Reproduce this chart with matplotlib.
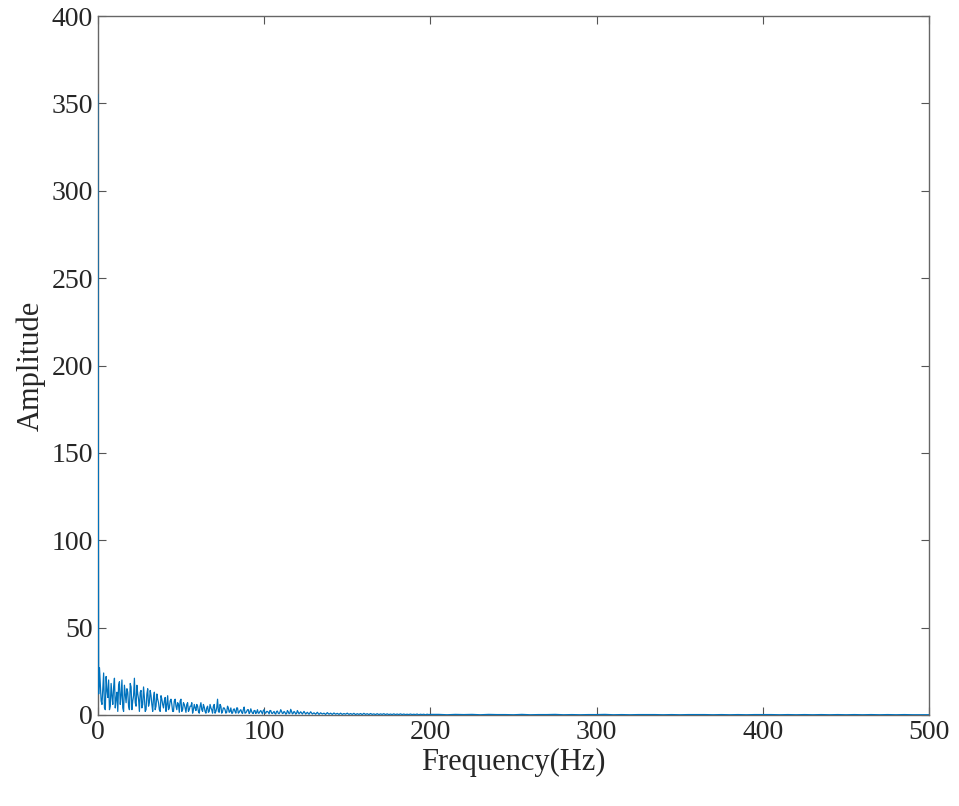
import numpy as np
import matplotlib
matplotlib.use("Agg")
from matplotlib import pyplot as plt

# spectrum: 1 Hz steps to 200 Hz, then 5 Hz steps
freq_low = list(range(0, 201))
amp_low = [355, 27, 8, 15, 4, 22, 10, 3, 18, 6,
           21, 9, 2, 19, 11, 4, 17, 7, 13, 3,
           16, 8, 21, 5, 12, 2, 14, 6, 10, 3,
           15, 7, 11, 2, 13, 5, 9, 3, 11, 6,
           8, 2, 11, 4, 9, 2, 8, 5, 7, 1.5,
           9, 3, 6, 1.5, 7, 3, 5, 1, 6, 2.5,
           5, 1, 7, 2, 4.5, 1, 5, 2, 4, 1,
           6, 2, 9, 1.5, 5, 2, 4, 1, 5, 1.5,
           4, 1, 3.5, 1, 4, 1.5, 3, 0.8, 4.5, 1.2,
           3, 0.8, 3.5, 1, 2.5, 0.8, 3, 1, 2.5, 0.6,
           3, 1, 2, 0.6, 2.5, 0.8, 2, 0.5, 2.2, 0.7,
           3, 0.8, 2, 0.5, 2.5, 0.7, 3.2, 0.6, 2, 0.5,
           2.5, 0.6, 1.8, 0.5, 2, 0.5, 1.5, 0.4, 1.8, 0.5,
           1.2, 0.4, 1.5, 0.3, 1.2, 0.5, 1.0, 0.3, 1.3, 0.4,
           1.0, 0.3, 1.1, 0.4, 0.9, 0.3, 1.0, 0.3, 0.8, 0.4,
           1.0, 0.3, 0.8, 0.3, 0.9, 0.2, 0.7, 0.3, 0.8, 0.2,
           0.9, 0.3, 0.7, 0.2, 0.8, 0.3, 0.6, 0.2, 0.7, 0.2,
           0.6, 0.3, 0.7, 0.2, 0.6, 0.2, 0.5, 0.2, 0.6, 0.2,
           0.5, 0.2, 0.6, 0.2, 0.5, 0.2, 0.4, 0.2, 0.5, 0.2,
           0.4, 0.2, 0.5, 0.1, 0.4, 0.2, 0.4, 0.1, 0.4, 0.2,
           0.3]
# in-between bins (0.5, 1.5, ... 119.5 Hz) where the trace is densest
freq_mid = [f + 0.5 for f in range(0, 120)]
amp_mid = [12, 18, 6, 24, 3, 14, 20, 5, 11, 16,
           4, 13, 17, 6, 20, 2, 12, 15, 5, 18,
           3, 11, 7, 17, 9, 13, 4, 16, 2, 12,
           5, 14, 6, 10, 3, 12, 7, 2, 9, 4,
           10, 6, 3, 8, 6, 2, 9, 3, 6, 8,
           2, 7, 4, 6, 2, 5, 7, 3, 4, 6,
           2, 5, 3, 6, 2, 4, 1.5, 6, 3, 5,
           1, 4, 2, 6, 1, 4, 3, 1.5, 4, 2,
           1, 3, 2, 4, 1, 2.5, 1.5, 3, 1, 2,
           3, 1.5, 2, 0.8, 2.5, 1.5, 1, 2, 1.5, 2.5,
           1, 2, 1.5, 2.5, 1, 1.5, 0.8, 2, 1, 1.5,
           2, 1, 1.5, 0.7, 1.8, 1, 2, 1, 1.5, 0.8]
freq_high = list(range(205, 501, 5))
amp_high = [0.3, 0.1, 0.3, 0.2, 0.3, 0.1, 0.3, 0.2, 0.2, 0.1,
            0.3, 0.1, 0.2, 0.2, 0.3, 0.1, 0.2, 0.1, 0.2, 0.2,
            0.3, 0.1, 0.2, 0.1, 0.2, 0.2, 0.2, 0.1, 0.2, 0.1,
            0.2, 0.2, 0.2, 0.1, 0.2, 0.1, 0.2, 0.1, 0.2, 0.2,
            0.2, 0.1, 0.2, 0.1, 0.2, 0.1, 0.2, 0.1, 0.2, 0.1,
            0.2, 0.1, 0.2, 0.1, 0.2, 0.1, 0.2, 0.1, 0.1, 0.1]

freq = np.array(freq_low + freq_mid + freq_high, dtype=float)
amp = np.array(amp_low + amp_mid + amp_high, dtype=float)
order = np.argsort(freq, kind='stable')
freq, amp = freq[order], amp[order]

plt.rcParams['font.family'] = ['Liberation Serif', 'DejaVu Serif']

fig = plt.figure(figsize=(9.59, 8.06), dpi=100)
ax = fig.add_axes([0.102, 0.113, 0.867, 0.867])
ax.plot(freq, amp, color='#0072BD', linewidth=0.9, zorder=3)

ax.set_xlim(0, 500)
ax.set_ylim(0, 400)
ax.set_xticks(range(0, 501, 100))
ax.set_yticks(range(0, 401, 50))
ax.tick_params(direction='in', top=True, right=True, length=6,
               labelsize=20, color='#555555', labelcolor='#262626')
for s in ax.spines.values():
    s.set_color('#666666')
    s.set_linewidth(1.0)
ax.set_xlabel('Frequency(Hz)', fontsize=22, color='#262626', labelpad=2)
ax.set_ylabel('Amplitude', fontsize=22, color='#262626', labelpad=4)

fig.savefig('out.png', dpi=100)
